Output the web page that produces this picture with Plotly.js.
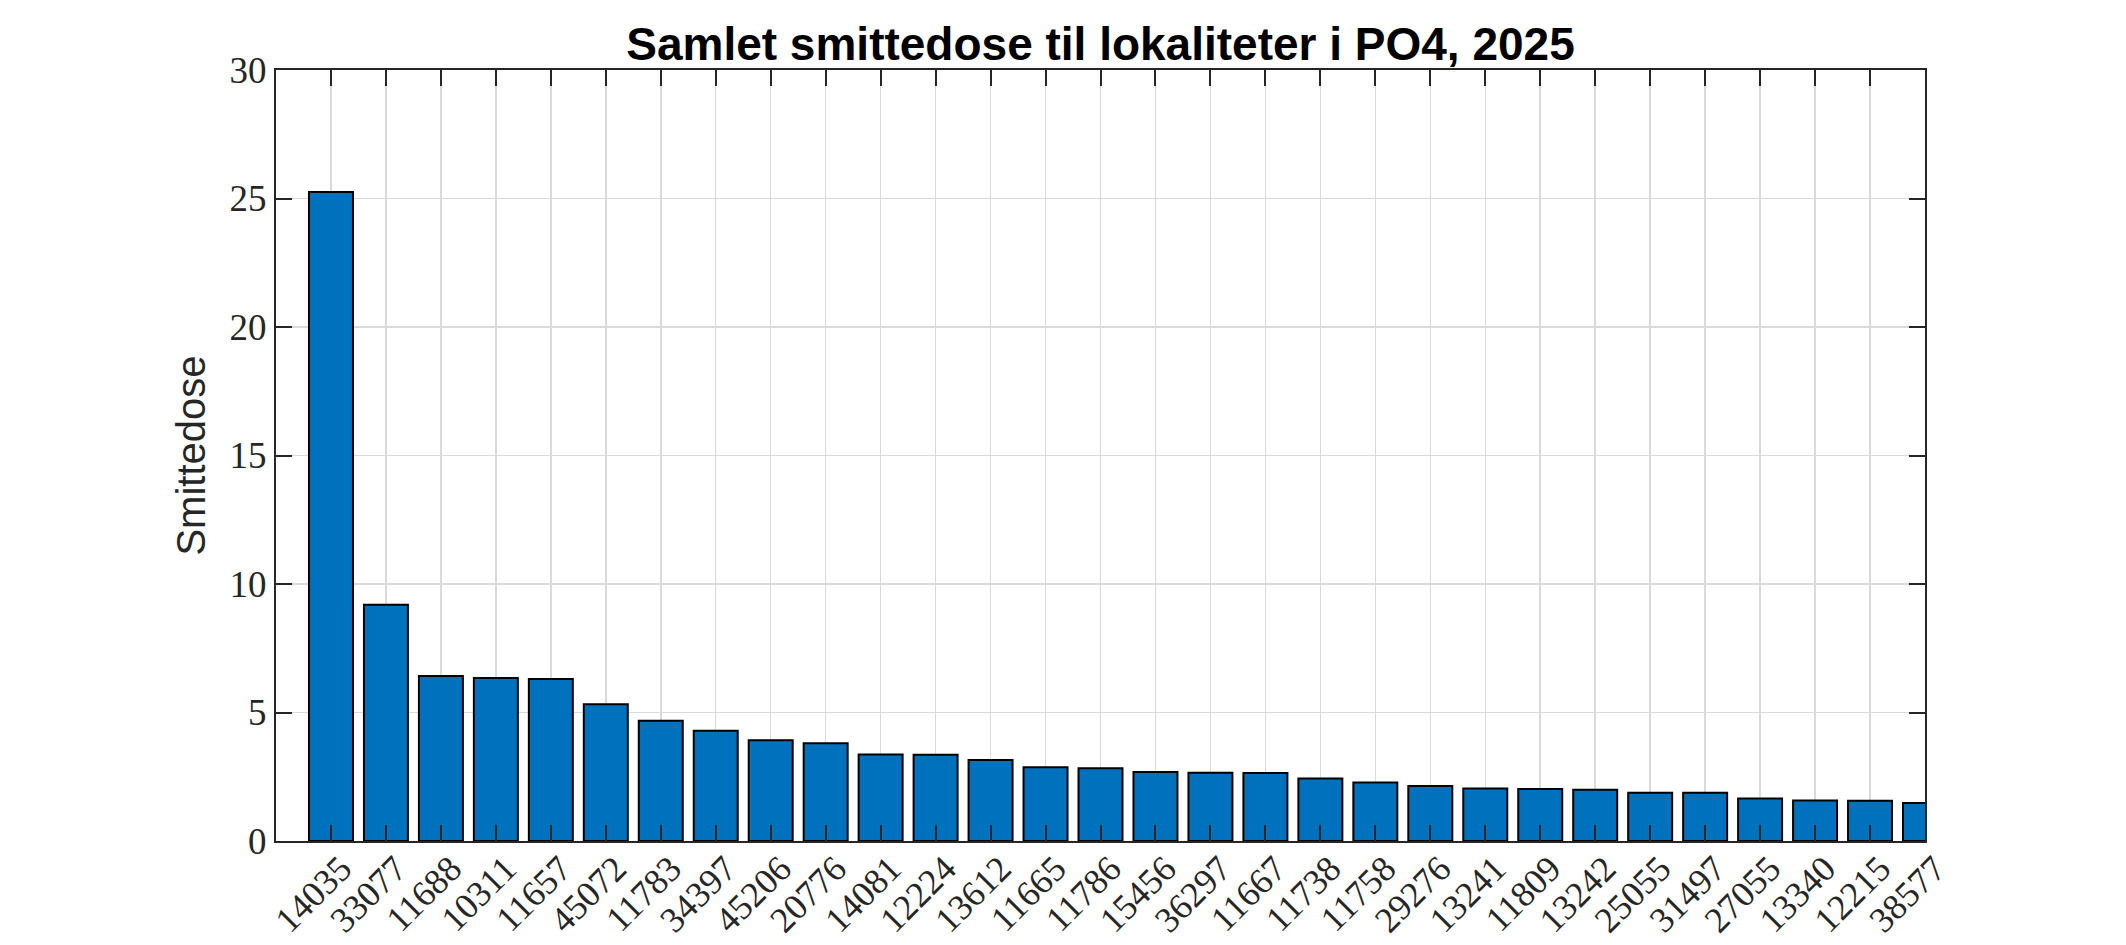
<!DOCTYPE html>
<html>
<head>
<meta charset="utf-8">
<script src="https://cdn.plot.ly/plotly-3.0.1.min.js"></script>
<style>
  html, body { margin: 0; padding: 0; background: #fff; }
  #chart { width: 2126px; height: 945px; }
</style>
</head>
<body>
<div id="chart"></div>
<script>
// lokalitetsnummer, sortert etter smittedose
let sites = ["14035", "33077", "11688", "10311", "11657", "45072", "11783", "34397", "45206", "20776",
             "14081", "12224", "13612", "11665", "11786", "15456", "36297", "11667", "11738", "11758",
             "29276", "13241", "11809", "13242", "25055", "31497", "27055", "13340", "12215", "38577"];

let dose = [25.25, 9.19, 6.42, 6.34, 6.30, 5.32, 4.68, 4.29, 3.92, 3.80,
            3.37, 3.36, 3.15, 2.87, 2.83, 2.68, 2.66, 2.65, 2.43, 2.28,
            2.14, 2.04, 2.02, 1.99, 1.88, 1.88, 1.65, 1.58, 1.57, 1.48];

let yTicks = [0, 5, 10, 15, 20, 25, 30];

let axisColor = "#262626";
let gridColor = "#dadada";
let tickFont = {family: "Liberation Serif, Times New Roman, serif", size: 37, color: "#262626"};

Plotly.newPlot('chart', [{
    type: 'bar',
    x: sites,
    y: dose,
    marker: {color: '#0072BD', line: {color: '#000000', width: 2}},
    hoverinfo: 'x+y'
}], {
    width: 2126,
    height: 945,
    margin: {l: 276, r: 201, t: 70, b: 104},
    paper_bgcolor: '#ffffff',
    plot_bgcolor: '#ffffff',
    showlegend: false,
    bargap: 0.2,
    title: {
        text: "Samlet smittedose til lokaliteter i PO4, 2025",
        font: {family: "Liberation Sans, Arial, Helvetica, sans-serif", size: 46, color: "#000000", weight: 'bold'},
        x: 0.5, xref: 'paper', xanchor: 'center',
        y: 1 - 44/945, yref: 'container', yanchor: 'middle'
    },
    xaxis: {
        type: 'category',
        range: [-1, 29],
        tickangle: -45,
        tickfont: {family: tickFont.family, size: 36, color: tickFont.color},
        ticklabelstandoff: -10,
        ticklabelshift: 10,
        ticks: 'inside',
        ticklen: 16,
        tickwidth: 2,
        tickcolor: axisColor,
        showline: true,
        linecolor: axisColor,
        linewidth: 2,
        mirror: 'ticks',
        showgrid: true,
        gridcolor: gridColor,
        gridwidth: 1.5,
        zeroline: false,
        automargin: false
    },
    yaxis: {
        range: [0, 30],
        tickvals: yTicks,
        ticktext: yTicks.map(String),
        tickfont: tickFont,
        ticks: 'inside',
        ticklen: 16,
        tickwidth: 2,
        tickcolor: axisColor,
        showline: true,
        linecolor: axisColor,
        linewidth: 2,
        mirror: 'ticks',
        showgrid: true,
        gridcolor: gridColor,
        gridwidth: 1.5,
        zeroline: false,
        automargin: false,
        title: {
            text: "Smittedose",
            font: {family: "Liberation Sans, Arial, Helvetica, sans-serif", size: 40, color: "#262626"},
            standoff: 12
        }
    }
}, {displayModeBar: false, staticPlot: true});
</script>
</body>
</html>
